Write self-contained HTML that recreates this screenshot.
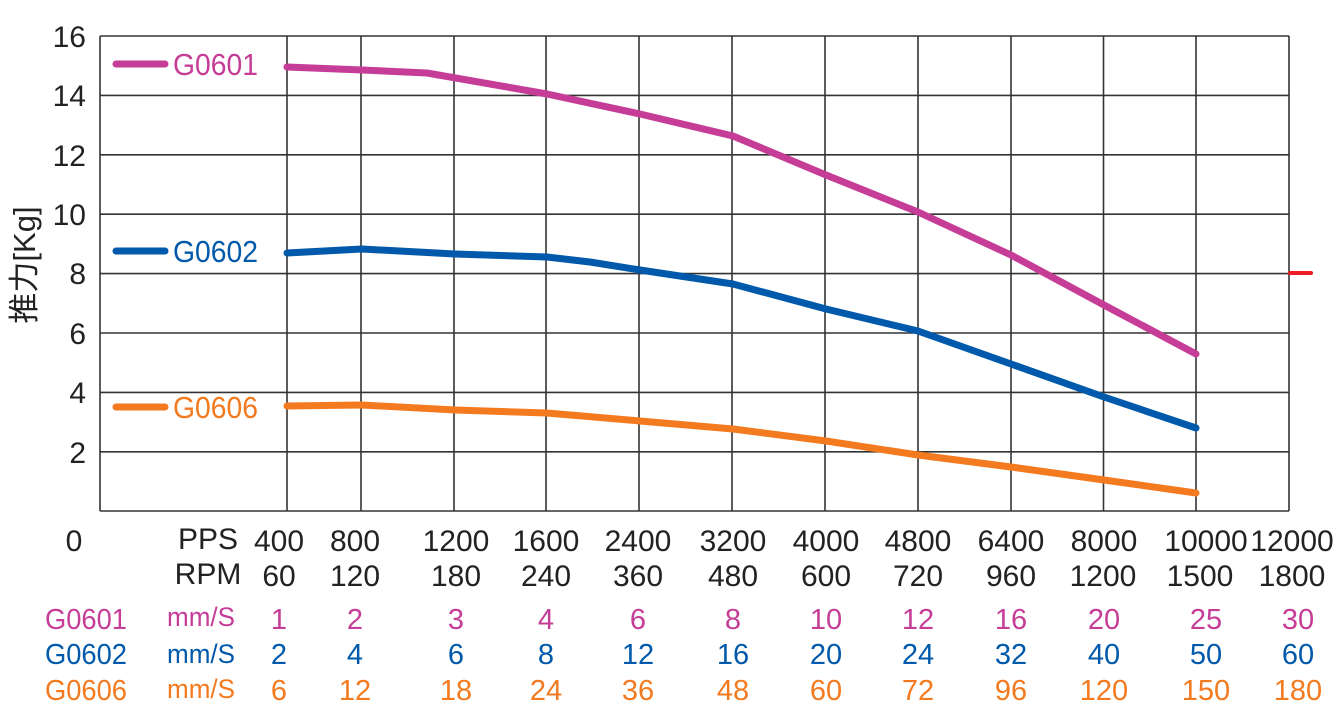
<!DOCTYPE html>
<html><head><meta charset="utf-8"><style>
html,body{margin:0;padding:0;background:#fff;}
svg{display:block;font-family:"Liberation Sans","Noto Sans CJK SC",sans-serif;}
</style></head><body>
<svg width="1337" height="725" viewBox="0 0 1337 725" xmlns="http://www.w3.org/2000/svg">
<g stroke="#333" stroke-width="1.6" fill="none">
<line x1="100" y1="36" x2="1289" y2="36"/>
<line x1="100" y1="95.4" x2="1289" y2="95.4"/>
<line x1="100" y1="154.8" x2="1289" y2="154.8"/>
<line x1="100" y1="214.2" x2="1289" y2="214.2"/>
<line x1="100" y1="273.6" x2="1289" y2="273.6"/>
<line x1="100" y1="333" x2="1289" y2="333"/>
<line x1="100" y1="392.4" x2="1289" y2="392.4"/>
<line x1="100" y1="451.8" x2="1289" y2="451.8"/>
<line x1="100" y1="511" x2="1289" y2="511"/>
<line x1="100" y1="36" x2="100" y2="511"/>
<line x1="287" y1="36" x2="287" y2="511"/>
<line x1="361" y1="36" x2="361" y2="511"/>
<line x1="454" y1="36" x2="454" y2="511"/>
<line x1="546" y1="36" x2="546" y2="511"/>
<line x1="639" y1="36" x2="639" y2="511"/>
<line x1="732" y1="36" x2="732" y2="511"/>
<line x1="825" y1="36" x2="825" y2="511"/>
<line x1="918" y1="36" x2="918" y2="511"/>
<line x1="1011" y1="36" x2="1011" y2="511"/>
<line x1="1103.5" y1="36" x2="1103.5" y2="511"/>
<line x1="1196" y1="36" x2="1196" y2="511"/>
<line x1="1289" y1="36" x2="1289" y2="511"/>
</g>
<g fill="none" stroke-width="7" stroke-linecap="round" stroke-linejoin="round">
<polyline stroke="#c63d97" points="287,67 362,70 427,73 547,94 640,114 733,136 826,175 918,212 1011,255 1104,305 1196,354"/>
<polyline stroke="#0059aa" points="287,253 362,249 455,254 547,257 590,262 640,270 733,284 826,309 918,331 1011,364 1104,397 1196,428"/>
<polyline stroke="#f47a20" points="287,406 362,405 455,410 547,413 640,421 733,429 826,441 918,455 1011,467 1104,480 1196,493"/>
<line stroke="#c63d97" x1="116" y1="64" x2="165" y2="64"/>
<line stroke="#0059aa" x1="116" y1="251" x2="165" y2="251"/>
<line stroke="#f47a20" x1="116" y1="407" x2="165" y2="407"/>
<line stroke="#ee1c25" stroke-width="4" x1="1290" y1="273" x2="1311" y2="273"/>
</g>
<g font-size="31" fill="#c63d97">
<text x="173" y="75" textLength="85" lengthAdjust="spacingAndGlyphs">G0601</text>
<text x="173" y="262" fill="#0059aa" textLength="85" lengthAdjust="spacingAndGlyphs">G0602</text>
<text x="173" y="418" fill="#f47a20" textLength="85" lengthAdjust="spacingAndGlyphs">G0606</text>
</g>
<g font-size="30" fill="#222" text-anchor="end">
<text x="86" y="47">16</text><text x="86" y="106">14</text><text x="86" y="166">12</text>
<text x="86" y="225">10</text><text x="86" y="284">8</text><text x="86" y="344">6</text>
<text x="86" y="403">4</text><text x="86" y="463">2</text>
</g>
<text transform="translate(35,265) rotate(-90)" font-size="31" fill="#222" text-anchor="middle">推力[Kg]</text>
<g font-size="30" fill="#222" text-anchor="middle">
<text x="74" y="551">0</text>
<text x="208" y="549">PPS</text><text x="208" y="584">RPM</text>
<text x="279" y="551">400</text><text x="355" y="551">800</text><text x="456" y="551">1200</text><text x="546" y="551">1600</text><text x="638" y="551">2400</text><text x="733" y="551">3200</text><text x="826" y="551">4000</text><text x="918" y="551">4800</text><text x="1011" y="551">6400</text><text x="1104" y="551">8000</text><text x="1206" y="551">10000</text><text x="1292" y="551">12000</text>
<text x="279" y="586">60</text><text x="355" y="586">120</text><text x="456" y="586">180</text><text x="546" y="586">240</text><text x="638" y="586">360</text><text x="733" y="586">480</text><text x="826" y="586">600</text><text x="918" y="586">720</text><text x="1011" y="586">960</text><text x="1103" y="586">1200</text><text x="1200" y="586">1500</text><text x="1292" y="586">1800</text>
</g>
<g font-size="29" text-anchor="middle">
<g fill="#c63d97">
<text x="86" y="629" textLength="82" lengthAdjust="spacingAndGlyphs">G0601</text>
<text x="201" y="626" font-size="27" textLength="68" lengthAdjust="spacingAndGlyphs">mm/S</text>
<text x="279" y="629">1</text><text x="355" y="629">2</text><text x="456" y="629">3</text><text x="546" y="629">4</text><text x="638" y="629">6</text><text x="733" y="629">8</text><text x="826" y="629">10</text><text x="918" y="629">12</text><text x="1011" y="629">16</text><text x="1104" y="629">20</text><text x="1206" y="629">25</text><text x="1298" y="629">30</text>
</g>
<g fill="#0059aa">
<text x="86" y="664" textLength="82" lengthAdjust="spacingAndGlyphs">G0602</text>
<text x="201" y="663" font-size="27" textLength="68" lengthAdjust="spacingAndGlyphs">mm/S</text>
<text x="279" y="664">2</text><text x="355" y="664">4</text><text x="456" y="664">6</text><text x="546" y="664">8</text><text x="638" y="664">12</text><text x="733" y="664">16</text><text x="826" y="664">20</text><text x="918" y="664">24</text><text x="1011" y="664">32</text><text x="1104" y="664">40</text><text x="1206" y="664">50</text><text x="1298" y="664">60</text>
</g>
<g fill="#f47a20">
<text x="86" y="700" textLength="82" lengthAdjust="spacingAndGlyphs">G0606</text>
<text x="201" y="698" font-size="27" textLength="68" lengthAdjust="spacingAndGlyphs">mm/S</text>
<text x="279" y="700">6</text><text x="355" y="700">12</text><text x="456" y="700">18</text><text x="546" y="700">24</text><text x="638" y="700">36</text><text x="733" y="700">48</text><text x="826" y="700">60</text><text x="918" y="700">72</text><text x="1011" y="700">96</text><text x="1104" y="700">120</text><text x="1206" y="700">150</text><text x="1298" y="700">180</text>
</g>
</g>
</svg>
</body></html>
